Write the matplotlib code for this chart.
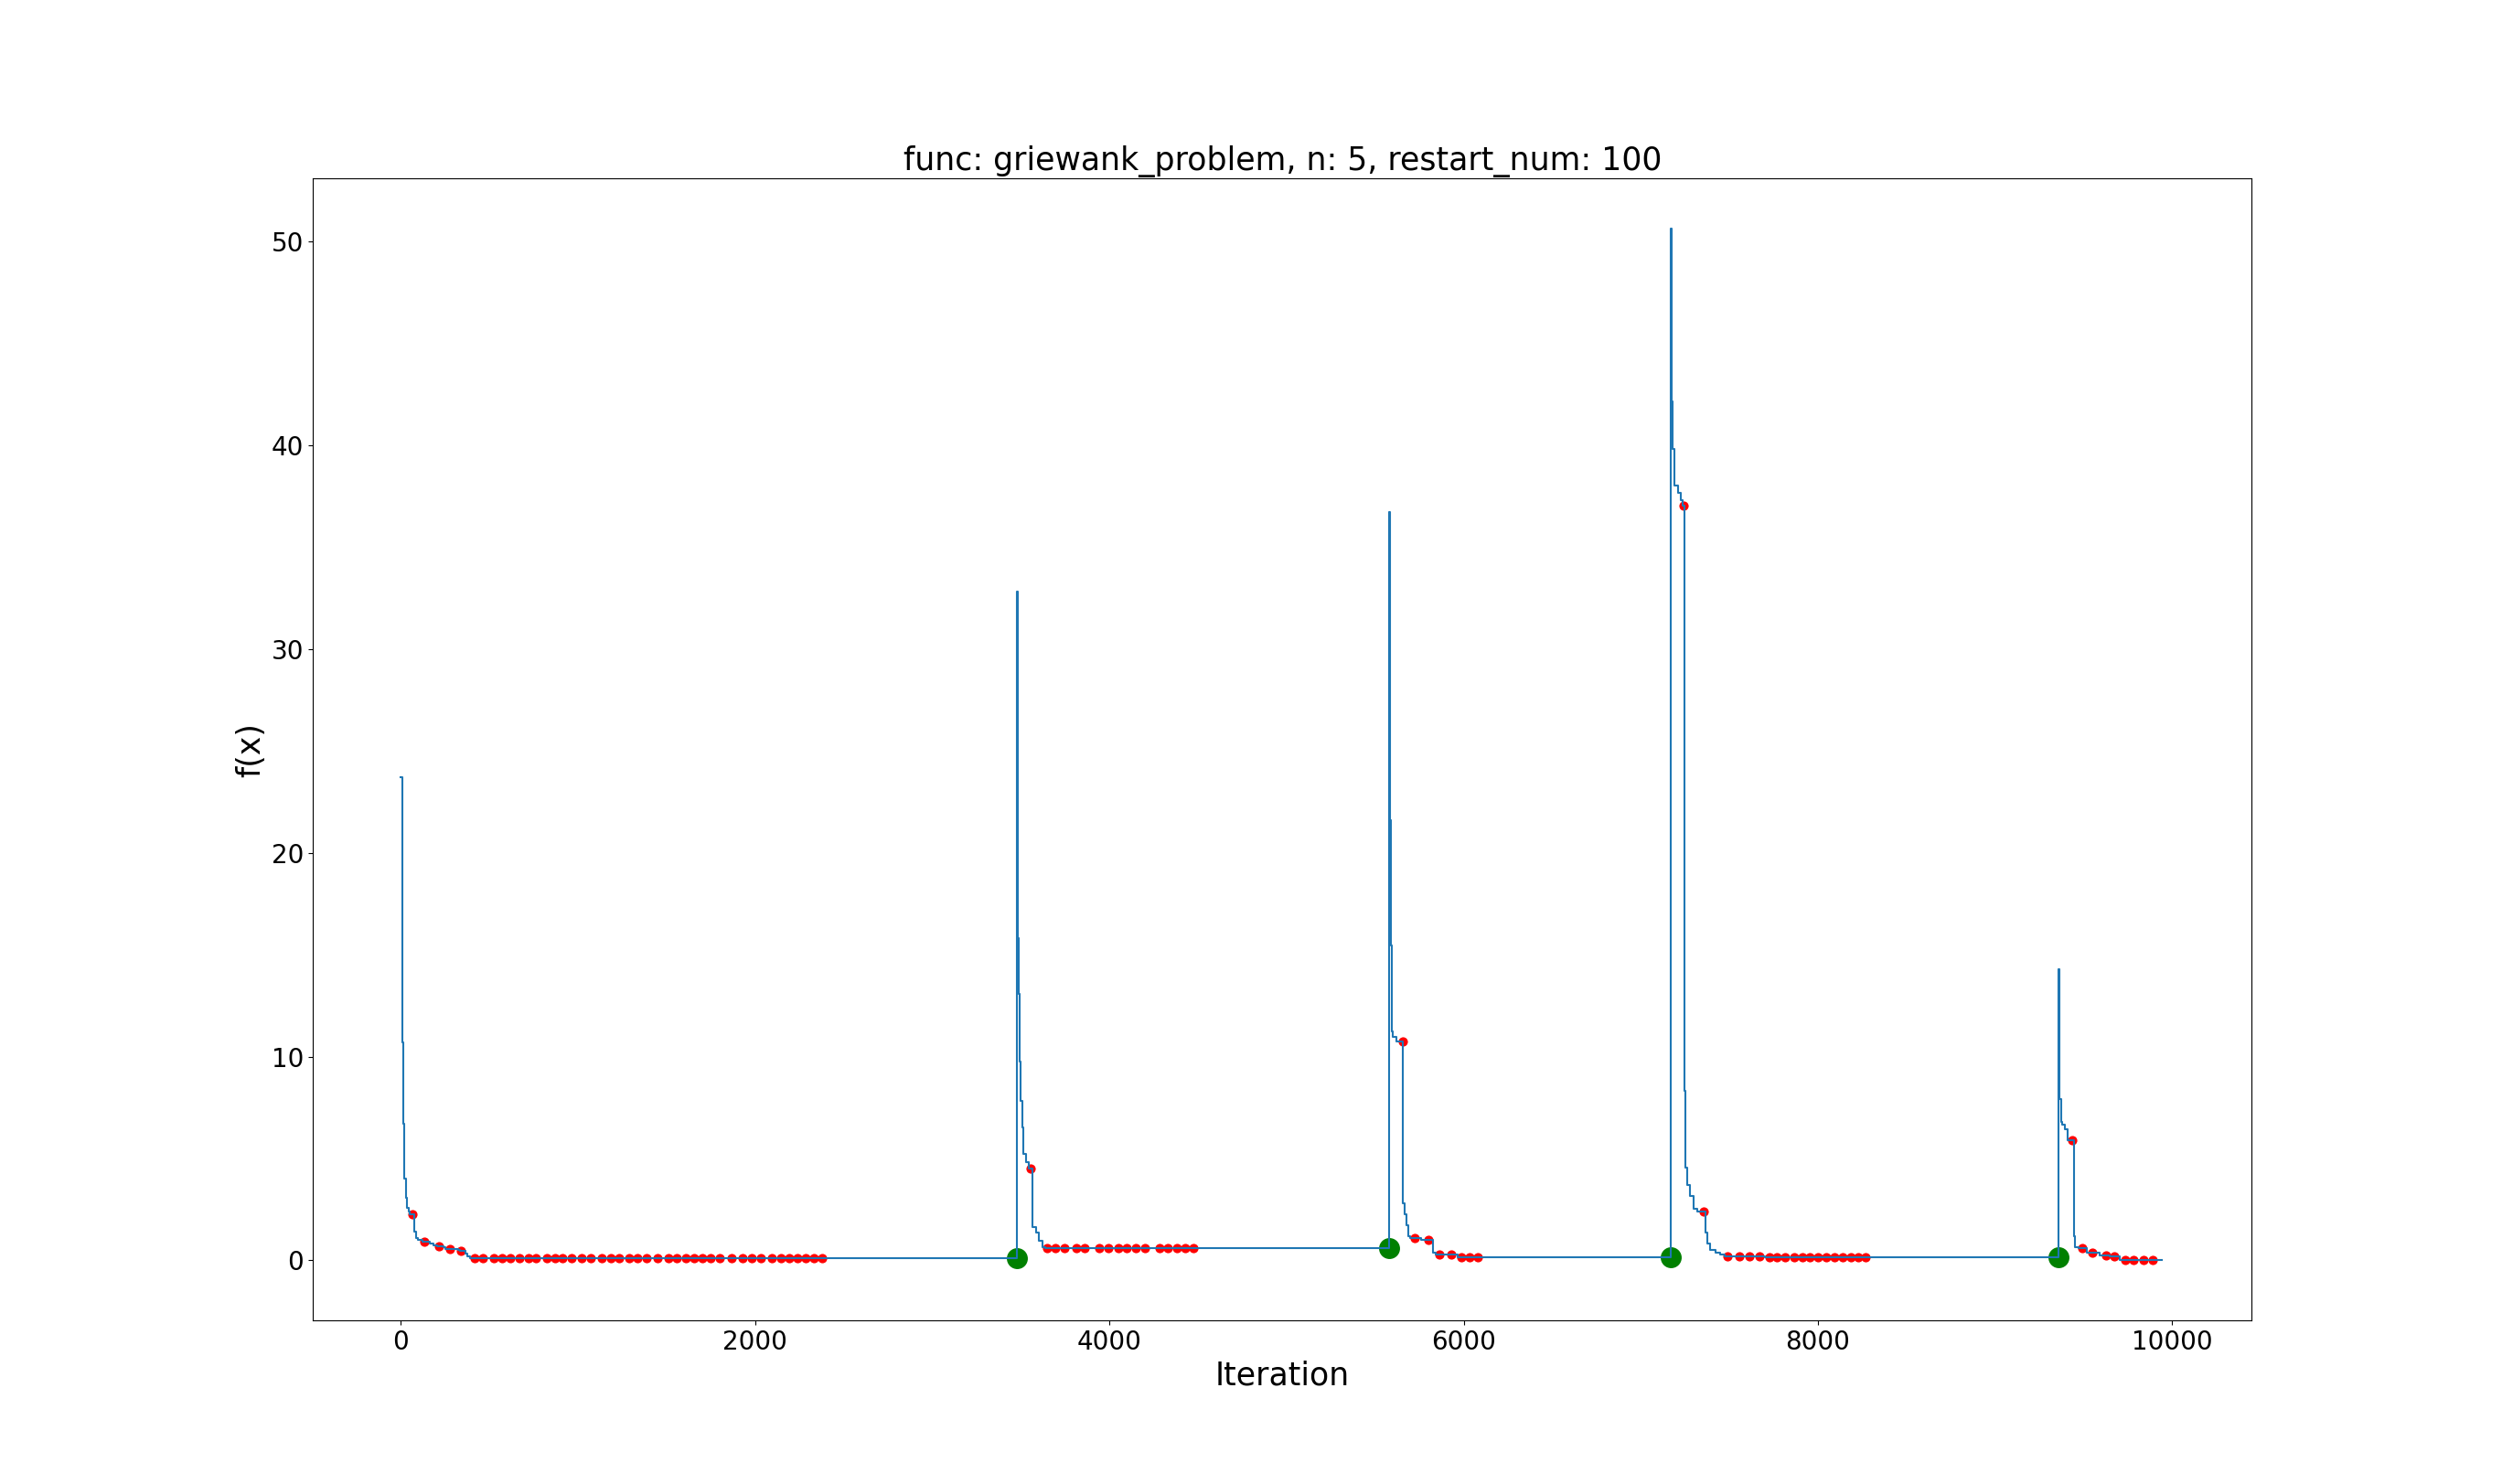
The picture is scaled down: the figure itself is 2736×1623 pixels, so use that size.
import matplotlib
matplotlib.use("Agg")
import matplotlib.pyplot as plt

# Best-so-far objective value (step breakpoints: iteration, value)
line_iters = [0, 6, 12, 20, 29, 35, 42, 50, 75, 85, 94, 120, 164, 185, 203, 240, 253, 322, 335, 362, 377, 391,
              3478, 3485, 3490, 3494, 3499, 3508, 3516, 3528, 3545, 3568, 3585, 3602, 3623, 3640,
              5580, 5585, 5589, 5594, 5602, 5620, 5659, 5668, 5676, 5685, 5700, 5760, 5826, 5840, 5964,
              7169, 7174, 7182, 7189, 7212, 7224, 7235, 7246, 7251, 7263, 7280, 7298, 7320, 7367, 7375, 7392,
              7420, 7450, 7475, 7700,
              9360, 9363, 9366, 9372, 9380, 9397, 9410, 9444, 9453, 9470, 9520, 9590, 9650, 9705, 9940]
line_values = [23.72, 10.71, 6.71, 4.02, 3.07, 2.56, 2.38, 2.28, 1.39, 1.10, 1.01, 0.94, 0.84, 0.75, 0.69, 0.65,
               0.58, 0.53, 0.48, 0.32, 0.20, 0.11,
               32.80, 15.79, 13.09, 9.74, 7.81, 6.52, 5.23, 4.84, 4.51, 1.62, 1.36, 0.97, 0.64, 0.59,
               36.70, 21.59, 15.47, 11.25, 10.98, 10.76, 2.81, 2.27, 1.72, 1.18, 1.10, 0.99, 0.36, 0.31, 0.17,
               50.63, 42.15, 39.82, 38.03, 37.68, 37.32, 37.03, 8.33, 4.57, 3.68, 3.14, 2.53, 2.42, 1.35, 0.81,
               0.53, 0.40, 0.30, 0.20, 0.14,
               14.29, 11.07, 7.93, 6.80, 6.66, 6.43, 5.91, 1.19, 0.67, 0.60, 0.40, 0.25, 0.22, 0.03, 0.03]

# Red markers (recorded points)
red_iters = [65, 134, 213, 278, 341, 416, 460, 525, 572, 616, 671, 719, 764, 825, 868, 914, 963, 1019, 1072,
             1133, 1183, 1232, 1286, 1337, 1384, 1450, 1508, 1559, 1606, 1654, 1703, 1747, 1802, 1869, 1927,
             1982, 2032, 2093, 2144, 2190, 2237, 2286, 2330, 2379,
             3557, 3649, 3697, 3748, 3812, 3860, 3941, 3996, 4050, 4096, 4151, 4203, 4285, 4332, 4380, 4428, 4475,
             5654, 5726, 5803, 5865, 5932, 5986, 6033, 6079,
             7243, 7353, 7490, 7559, 7611, 7671, 7728, 7768, 7814, 7866, 7914, 7955, 8003, 8048, 8094, 8140,
             8186, 8228, 8268,
             9437, 9495, 9552, 9625, 9676, 9733, 9780, 9837, 9888]
red_values = [2.28, 0.94, 0.69, 0.58, 0.48] + [0.11] * 39 + \
             [4.51] + [0.59] * 16 + \
             [10.76, 1.10, 0.99, 0.31, 0.31, 0.17, 0.17, 0.17] + \
             [37.03, 2.42, 0.20, 0.20, 0.20, 0.20] + [0.14] * 13 + \
             [5.91, 0.60, 0.40, 0.25, 0.22, 0.03, 0.03, 0.03, 0.03]

# Green markers (restarts)
restart_iters = [3478, 5580, 7169, 9360]
restart_values = [0.11, 0.59, 0.17, 0.14]

title = "func: griewank_problem, n: 5, restart_num: 100"

fig = plt.figure(figsize=(27.36, 16.23), dpi=100)
ax = fig.add_subplot(111)
ax.scatter(red_iters, red_values, s=40, c="red")
ax.scatter(restart_iters, restart_values, s=240, c="green")
ax.plot(line_iters, line_values, drawstyle="steps-post", color="#1f77b4", lw=1.5)

ax.set_xlim(-498, 10450)
ax.set_ylim(-2.96, 53.10)
ax.set_title(title, fontsize=25)
ax.set_xlabel("Iteration", fontsize=25)
ax.set_ylabel("f(x)", fontsize=25)
ax.tick_params(labelsize=20)

fig.savefig("out.png", dpi=100)
